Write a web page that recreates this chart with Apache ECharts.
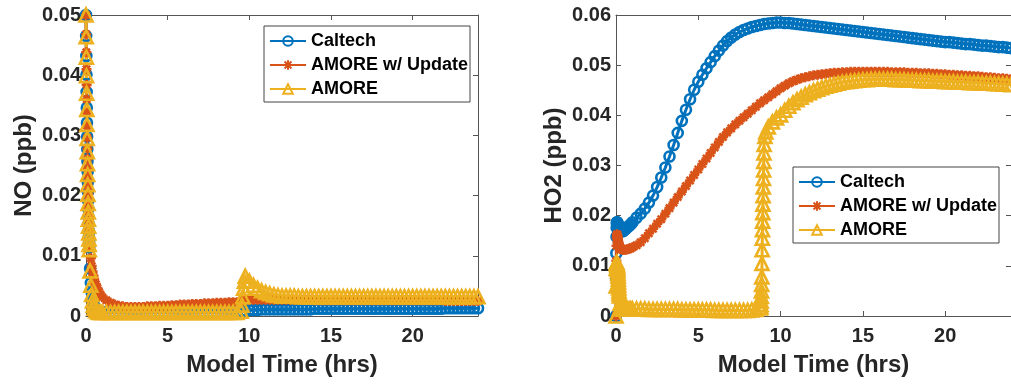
<!DOCTYPE html>
<html>
<head>
<meta charset="utf-8">
<script src="https://cdn.jsdelivr.net/npm/echarts@6/dist/echarts.min.js"></script>
<style>
html,body{margin:0;padding:0;background:#fff;}
#chart{width:1011px;height:384px;}
</style>
</head>
<body>
<div id="chart"></div>
<script>
// ---- time grids (hours) ----
const hours = [
0,0.01,0.02,0.03,0.04,0.05,0.06,0.07,0.08,0.09,0.1,0.11,0.12,0.13,0.14,0.15,0.16,0.17,0.18,0.19,0.2,
0.25,0.3,0.35,0.4,0.45,0.5,0.6,0.7,0.8,0.9,
1,1.25,1.5,1.75,2,2.25,2.5,2.75,3,3.25,3.5,3.75,4,4.25,4.5,4.75,5,5.25,5.5,5.75,6,6.25,6.5,6.75,7,7.25,7.5,7.75,8,8.25,8.5,8.75,
9,9.25,9.5,9.75,
10,10.25,10.5,10.75,11,11.25,11.5,11.75,12,12.25,12.5,12.75,13,13.25,13.5,13.75,14,14.25,14.5,14.75,15,15.25,15.5,15.75,
16,16.25,16.5,16.75,17,17.25,17.5,17.75,18,18.25,18.5,18.75,19,19.25,19.5,19.75,
20,20.25,20.5,20.75,21,21.25,21.5,21.75,22,22.25,22.5,22.75,23,23.25,23.5,23.75,24];

const hoursNoAmore = [
0,0.01,0.02,0.03,0.04,0.05,0.06,0.07,0.08,0.09,0.1,0.11,0.12,0.13,0.14,0.15,0.16,0.17,0.18,0.19,0.2,
0.25,0.3,0.35,0.4,0.45,0.5,0.6,0.7,0.8,0.9,
1,1.25,1.5,1.75,2,2.25,2.5,2.75,3,3.25,3.5,3.75,4,4.25,4.5,4.75,5,5.25,5.5,5.75,6,6.25,6.5,6.75,7,7.25,7.5,7.75,8,8.25,8.5,8.75,
9,9.25,9.5,9.55,9.6,9.65,9.7,9.75,
10,10.25,10.5,10.75,11,11.25,11.5,11.75,12,12.25,12.5,12.75,13,13.25,13.5,13.75,14,14.25,14.5,14.75,15,15.25,15.5,15.75,
16,16.25,16.5,16.75,17,17.25,17.5,17.75,18,18.25,18.5,18.75,19,19.25,19.5,19.75,
20,20.25,20.5,20.75,21,21.25,21.5,21.75,22,22.25,22.5,22.75,23,23.25,23.5,23.75,24];

const hoursHo2Amore = [
0,0.01,0.02,0.03,0.04,0.05,0.06,0.07,0.08,0.09,0.1,0.11,0.12,0.13,0.14,0.15,0.16,0.17,0.18,0.19,0.2,
0.25,0.3,0.35,0.4,0.45,0.5,0.6,0.7,0.8,0.9,
1,1.25,1.5,1.75,2,2.25,2.5,2.75,3,3.25,3.5,3.75,4,4.25,4.5,4.75,5,5.25,5.5,5.75,6,6.25,6.5,6.75,7,7.25,7.5,7.75,8,8.25,8.5,8.75,
8.8,8.81,8.82,8.83,8.84,8.85,8.86,8.87,8.88,8.89,8.9,8.91,8.92,8.93,8.94,8.95,8.96,8.97,8.98,8.99,9,
9.05,9.1,9.25,9.5,9.75,
10,10.25,10.5,10.75,11,11.25,11.5,11.75,12,12.25,12.5,12.75,13,13.25,13.5,13.75,14,14.25,14.5,14.75,15,15.25,15.5,15.75,
16,16.25,16.5,16.75,17,17.25,17.5,17.75,18,18.25,18.5,18.75,19,19.25,19.5,19.75,
20,20.25,20.5,20.75,21,21.25,21.5,21.75,22,22.25,22.5,22.75,23,23.25,23.5,23.75,24];

// ---- NO (ppb) ----
const noCaltech = [
0.05,0.0465,0.0432,0.0401,0.0372,0.0346,0.0321,0.0298,0.0277,0.0257,0.0239,0.0222,0.0206,0.0191,0.0178,0.0165,0.0153,0.0142,0.0132,0.0123,0.0114,
0.0079,0.0055,0.0039,0.0028,0.0021,0.0016,0.0011,0.0009,0.0008,0.0007,
0.0007,0.0007,0.0007,0.0007,0.0007,0.0007,0.0007,0.0007,0.0007,0.0007,0.0007,0.0007,0.0007,0.0007,0.0007,0.0007,
0.0007,0.0007,0.0007,0.0007,0.0007,0.0007,0.0007,0.0007,0.0007,0.0007,0.0007,0.0007,0.0007,0.0007,0.0007,0.0007,
0.0007,0.0007,0.0008,0.0009,
0.0010,0.0010,0.0010,0.0011,0.0011,0.0011,0.0011,0.0011,
0.0011,0.0011,0.0011,0.0011,0.0011,0.0011,0.0011,0.0011,0.0012,0.0012,0.0012,0.0012,0.0012,0.0012,0.0012,0.0012,
0.0012,0.0012,0.0012,0.0012,0.0012,0.0012,0.0012,0.0012,0.0012,0.0012,0.0012,0.0012,0.0012,0.0012,0.0012,0.0012,
0.0012,0.0012,0.0012,0.0012,0.0012,0.0012,0.0012,0.0012,0.0013,0.0013,0.0013,0.0013,0.0013,0.0013,0.0013,0.0013,0.0013];

const noUpdate = [
0.05,0.0468,0.0438,0.041,0.0384,0.036,0.0337,0.0316,0.0296,0.0278,0.0261,0.0245,0.023,0.0216,0.0203,0.0191,0.018,0.0169,0.016,0.0151,0.0143,
0.0115,0.0096,0.0083,0.0074,0.0067,0.0062,0.0053,0.0046,0.004,0.0035,
0.0031,0.0026,0.0022,0.0019,0.0017,0.0016,0.0015,0.0015,0.0015,0.0015,0.0015,0.0016,0.0016,0.0016,0.0017,0.0017,
0.0017,0.0018,0.0018,0.0019,0.0019,0.0019,0.002,0.002,0.002,0.0021,0.0021,0.0021,0.0022,0.0022,0.0022,0.0023,
0.0023,0.0023,0.0024,0.0026,
0.0027,0.0027,0.0027,0.0027,0.0027,0.0027,0.0027,0.0027,
0.0027,0.0027,0.0027,0.0027,0.0027,0.0027,0.0027,0.0027,0.0026,0.0026,0.0026,0.0026,0.0026,0.0026,0.0026,0.0026,
0.0026,0.0026,0.0026,0.0026,0.0026,0.0026,0.0026,0.0026,0.0026,0.0026,0.0026,0.0026,0.0026,0.0026,0.0026,0.0026,
0.0026,0.0026,0.0026,0.0026,0.0026,0.0026,0.0026,0.0026,0.0025,0.0025,0.0025,0.0025,0.0025,0.0025,0.0025,0.0025,0.0025];

const noAmore = [
0.05,0.0464,0.043,0.0399,0.037,0.0343,0.0318,0.0295,0.0273,0.0253,0.0235,0.0218,0.0202,0.0187,0.0173,0.0161,0.0149,0.0138,0.0128,0.0119,0.011,
0.0075,0.0051,0.0036,0.0025,0.0018,0.0013,0.0009,0.0007,0.0006,0.0006,
0.0006,0.0006,0.0006,0.0006,0.0006,0.0006,0.0006,0.0006,0.0006,0.0006,0.0006,0.0006,0.0006,0.0006,0.0006,0.0006,
0.0006,0.0006,0.0006,0.0006,0.0006,0.0006,0.0006,0.0006,0.0006,0.0006,0.0006,0.0006,0.0006,0.0006,0.0006,0.0006,
0.0006,0.0006,0.0008,0.0018,0.0032,0.0046,0.0058,0.0066,
0.0058,0.0051,0.0046,0.0042,0.0039,0.0037,0.0035,0.0034,
0.0033,0.0033,0.0033,0.0033,0.0032,0.0032,0.0032,0.0032,0.0032,0.0032,0.0032,0.0032,0.0032,0.0032,0.0032,0.0032,
0.0032,0.0032,0.0032,0.0032,0.0032,0.0032,0.0032,0.0032,0.0032,0.0032,0.0032,0.0032,0.0032,0.0032,0.0032,0.0032,
0.0032,0.0032,0.0032,0.0032,0.0032,0.0032,0.0032,0.0032,0.0032,0.0032,0.0032,0.0032,0.0032,0.0032,0.0032,0.0032,0.0032];

// ---- HO2 (ppb) ----
const ho2Caltech = [
0,0.0075,0.0125,0.0158,0.0176,0.0184,0.0187,0.0187,0.0186,0.0185,0.0183,0.0182,0.018,0.0179,0.0178,0.0177,0.0176,0.0175,0.0174,0.0173,0.0172,
0.0171,0.017,0.0169,0.0169,0.017,0.0171,0.0174,0.0177,0.018,0.0183,
0.0187,0.0196,0.0204,0.0214,0.0226,0.024,0.0257,0.0276,0.0296,0.0318,0.0341,0.0365,0.0389,0.0411,0.0432,0.0451,
0.0467,0.0481,0.0494,0.0506,0.0518,0.0529,0.0539,0.0548,0.0555,0.0561,0.0566,0.057,0.0573,0.0576,0.0578,0.058,
0.0582,0.0583,0.0584,0.0585,
0.0585,0.0584,0.0584,0.0583,0.0582,0.0581,0.058,0.0579,
0.0578,0.0577,0.0576,0.0575,0.0574,0.0573,0.0572,0.0571,0.057,0.0569,0.0568,0.0567,0.0566,0.0565,0.0564,0.0563,
0.0562,0.0561,0.056,0.0559,0.0558,0.0557,0.0556,0.0555,0.0554,0.0553,0.0552,0.0551,0.055,0.0549,0.0548,0.0547,
0.0546,0.0546,0.0545,0.0544,0.0543,0.0542,0.0542,0.0541,0.054,0.0539,0.0539,0.0538,0.0537,0.0536,0.0536,0.0535,0.0534];

const ho2Update = [
0,0.0065,0.011,0.014,0.0155,0.0161,0.0163,0.0162,0.016,0.0158,0.0155,0.0153,0.0151,0.0149,0.0147,0.0145,0.0143,0.0142,0.0141,0.014,0.0139,
0.0136,0.0134,0.0133,0.0132,0.0132,0.0132,0.0132,0.0133,0.0134,0.0135,
0.0137,0.0141,0.0147,0.0155,0.0165,0.0174,0.0184,0.0193,0.0204,0.0215,0.0226,0.0237,0.0248,0.0259,0.027,0.0281,
0.0292,0.0303,0.0314,0.0325,0.0336,0.0347,0.0357,0.0366,0.0374,0.0382,0.0389,0.0396,0.0403,0.041,0.0417,0.0424,
0.043,0.0436,0.0442,0.0448,
0.0454,0.0459,0.0464,0.0468,0.0471,0.0474,0.0476,0.0478,
0.048,0.0481,0.0482,0.0483,0.0484,0.0485,0.0485,0.0486,0.0486,0.0487,0.0487,0.0487,0.0487,0.0487,0.0487,0.0487,
0.0487,0.0487,0.0487,0.0486,0.0486,0.0486,0.0486,0.0485,0.0485,0.0485,0.0484,0.0484,0.0484,0.0483,0.0483,0.0482,
0.0482,0.0481,0.0481,0.048,0.048,0.0479,0.0479,0.0478,0.0478,0.0477,0.0476,0.0476,0.0475,0.0474,0.0474,0.0473,0.0472];

const ho2Amore = [
0,0.006,0.0095,0.0105,0.0107,0.0106,0.0104,0.0102,0.01,0.0097,0.0094,0.009,0.0085,0.008,0.0074,0.0068,0.0062,0.0056,0.005,0.0045,0.004,
0.0025,0.0018,0.0015,0.0014,0.0014,0.0014,0.0014,0.0014,0.0014,0.0014,
0.0014,0.0014,0.0014,0.0014,0.0013,0.0013,0.0013,0.0013,0.0013,0.0013,0.0013,0.0013,0.0012,0.0012,0.0012,0.0012,
0.0012,0.0012,0.0012,0.0012,0.0011,0.0011,0.0011,0.0011,0.0011,0.0011,0.0011,0.0011,0.0011,0.0012,0.0013,0.0016,
0.0018,0.0023,0.003,0.0039,0.005,0.0063,0.0078,0.0105,0.0132,0.0155,0.0172,0.0189,0.0206,0.0223,0.024,0.0257,0.0274,0.0291,0.0308,0.0325,0.0342,
0.0358,0.0367,0.0377,0.0387,0.0395,
0.0401,0.041,0.0418,0.0425,0.0431,0.0436,0.0441,0.0445,
0.0449,0.0452,0.0455,0.0458,0.046,0.0462,0.0464,0.0466,0.0467,0.0468,0.0469,0.047,0.0471,0.0471,0.0472,0.0472,
0.0472,0.0472,0.0472,0.0472,0.0471,0.0471,0.0471,0.047,0.047,0.047,0.0469,0.0469,0.0469,0.0468,0.0468,0.0468,
0.0467,0.0467,0.0467,0.0466,0.0466,0.0466,0.0465,0.0465,0.0465,0.0464,0.0464,0.0464,0.0463,0.0463,0.0462,0.0462,0.0461];

const seriesNames = ['Caltech', 'AMORE w/ Update', 'AMORE'];

const FONT = '"Liberation Sans", Arial, sans-serif';
const BLUE = '#0072BD', ORANGE = '#D95319', YELLOW = '#EDB120';
const AXIS = '#555555';
const ASTERISK = 'path://M0,-5L0,5M-5,0L5,0M-3.6,-3.6L3.6,3.6M-3.6,3.6L3.6,-3.6';

function zip(t, v) { return t.map((x, i) => [x, v[i]]); }

function mkSeries(name, color, symbol, size, t, v, gi) {
  return {
    type: 'line', name: name, xAxisIndex: gi * 2, yAxisIndex: gi * 2,
    data: zip(t, v), clip: false, showSymbol: true, showAllSymbol: true,
    symbol: symbol, symbolSize: size,
    color: color,
    lineStyle: { color: color, width: 3 },
    itemStyle: { color: 'rgba(255,255,255,0)', borderColor: color, borderWidth: 2.6 },
    emphasis: { disabled: true }
  };
}

function mkX(gi, bottom) {
  return {
    type: 'value', gridIndex: gi, min: 0, max: 24, interval: 5,
    position: bottom ? 'bottom' : 'top',
    name: bottom ? 'Model Time (hrs)' : '', nameLocation: 'middle', nameGap: 37,
    nameTextStyle: { fontFamily: FONT, fontWeight: 'bold', fontSize: 24, color: '#262626' },
    axisLine: { show: true, onZero: false, lineStyle: { color: AXIS, width: 1 } },
    axisTick: { show: true, inside: true, length: 5, lineStyle: { color: AXIS } },
    axisLabel: { show: bottom, margin: 10, showMaxLabel: false, fontFamily: FONT, fontWeight: 'bold', fontSize: 20, color: '#262626' },
    splitLine: { show: false }
  };
}
function mkY(gi, left, max, name) {
  return {
    type: 'value', gridIndex: gi, min: 0, max: max, interval: 0.01,
    position: left ? 'left' : 'right',
    name: left ? name : '', nameLocation: 'middle', nameGap: 50,
    nameTextStyle: { fontFamily: FONT, fontWeight: 'bold', fontSize: 24, color: '#262626' },
    axisLine: { show: true, onZero: false, lineStyle: { color: AXIS, width: 1 } },
    axisTick: { show: true, inside: true, length: 5, lineStyle: { color: AXIS } },
    axisLabel: { show: left, margin: 5, fontFamily: FONT, fontWeight: 'bold', fontSize: 20, color: '#262626',
      formatter: v => v === 0 ? '0' : v.toFixed(2) },
    splitLine: { show: false }
  };
}
function mkLegend(left, top) {
  return {
    data: seriesNames, orient: 'vertical', left: left, top: top,
    itemWidth: 36, itemHeight: 12, itemGap: 4,
    padding: [5, 2, 3, 5],
    backgroundColor: '#fff', borderColor: '#444', borderWidth: 1,
    textStyle: { fontFamily: FONT, fontWeight: 'bold', fontSize: 18, color: '#000', lineHeight: 20 },
    selectedMode: false
  };
}

const chart = echarts.init(document.getElementById('chart'), null, { renderer: 'canvas' });
chart.setOption({
  animation: false,
  backgroundColor: '#fff',
  grid: [
    { left: 86, top: 15, width: 392, height: 301 },
    { left: 616, top: 15, width: 395, height: 301 }
  ],
  xAxis: [mkX(0, true), mkX(0, false), mkX(1, true), mkX(1, false)],
  yAxis: [mkY(0, true, 0.05, 'NO (ppb)'), mkY(0, false, 0.05, ''), mkY(1, true, 0.06, 'HO2 (ppb)'), mkY(1, false, 0.06, '')],
  legend: [mkLegend(264, 26), mkLegend(793, 167)],
  series: [
    mkSeries(seriesNames[0], BLUE, 'circle', 10, hours, noCaltech, 0),
    mkSeries(seriesNames[1], ORANGE, ASTERISK, 10, hours, noUpdate, 0),
    mkSeries(seriesNames[2], YELLOW, 'triangle', 13, hoursNoAmore, noAmore, 0),
    mkSeries(seriesNames[0], BLUE, 'circle', 10, hours, ho2Caltech, 1),
    mkSeries(seriesNames[1], ORANGE, ASTERISK, 10, hours, ho2Update, 1),
    mkSeries(seriesNames[2], YELLOW, 'triangle', 13, hoursHo2Amore, ho2Amore, 1)
  ]
});
</script>
</body>
</html>
